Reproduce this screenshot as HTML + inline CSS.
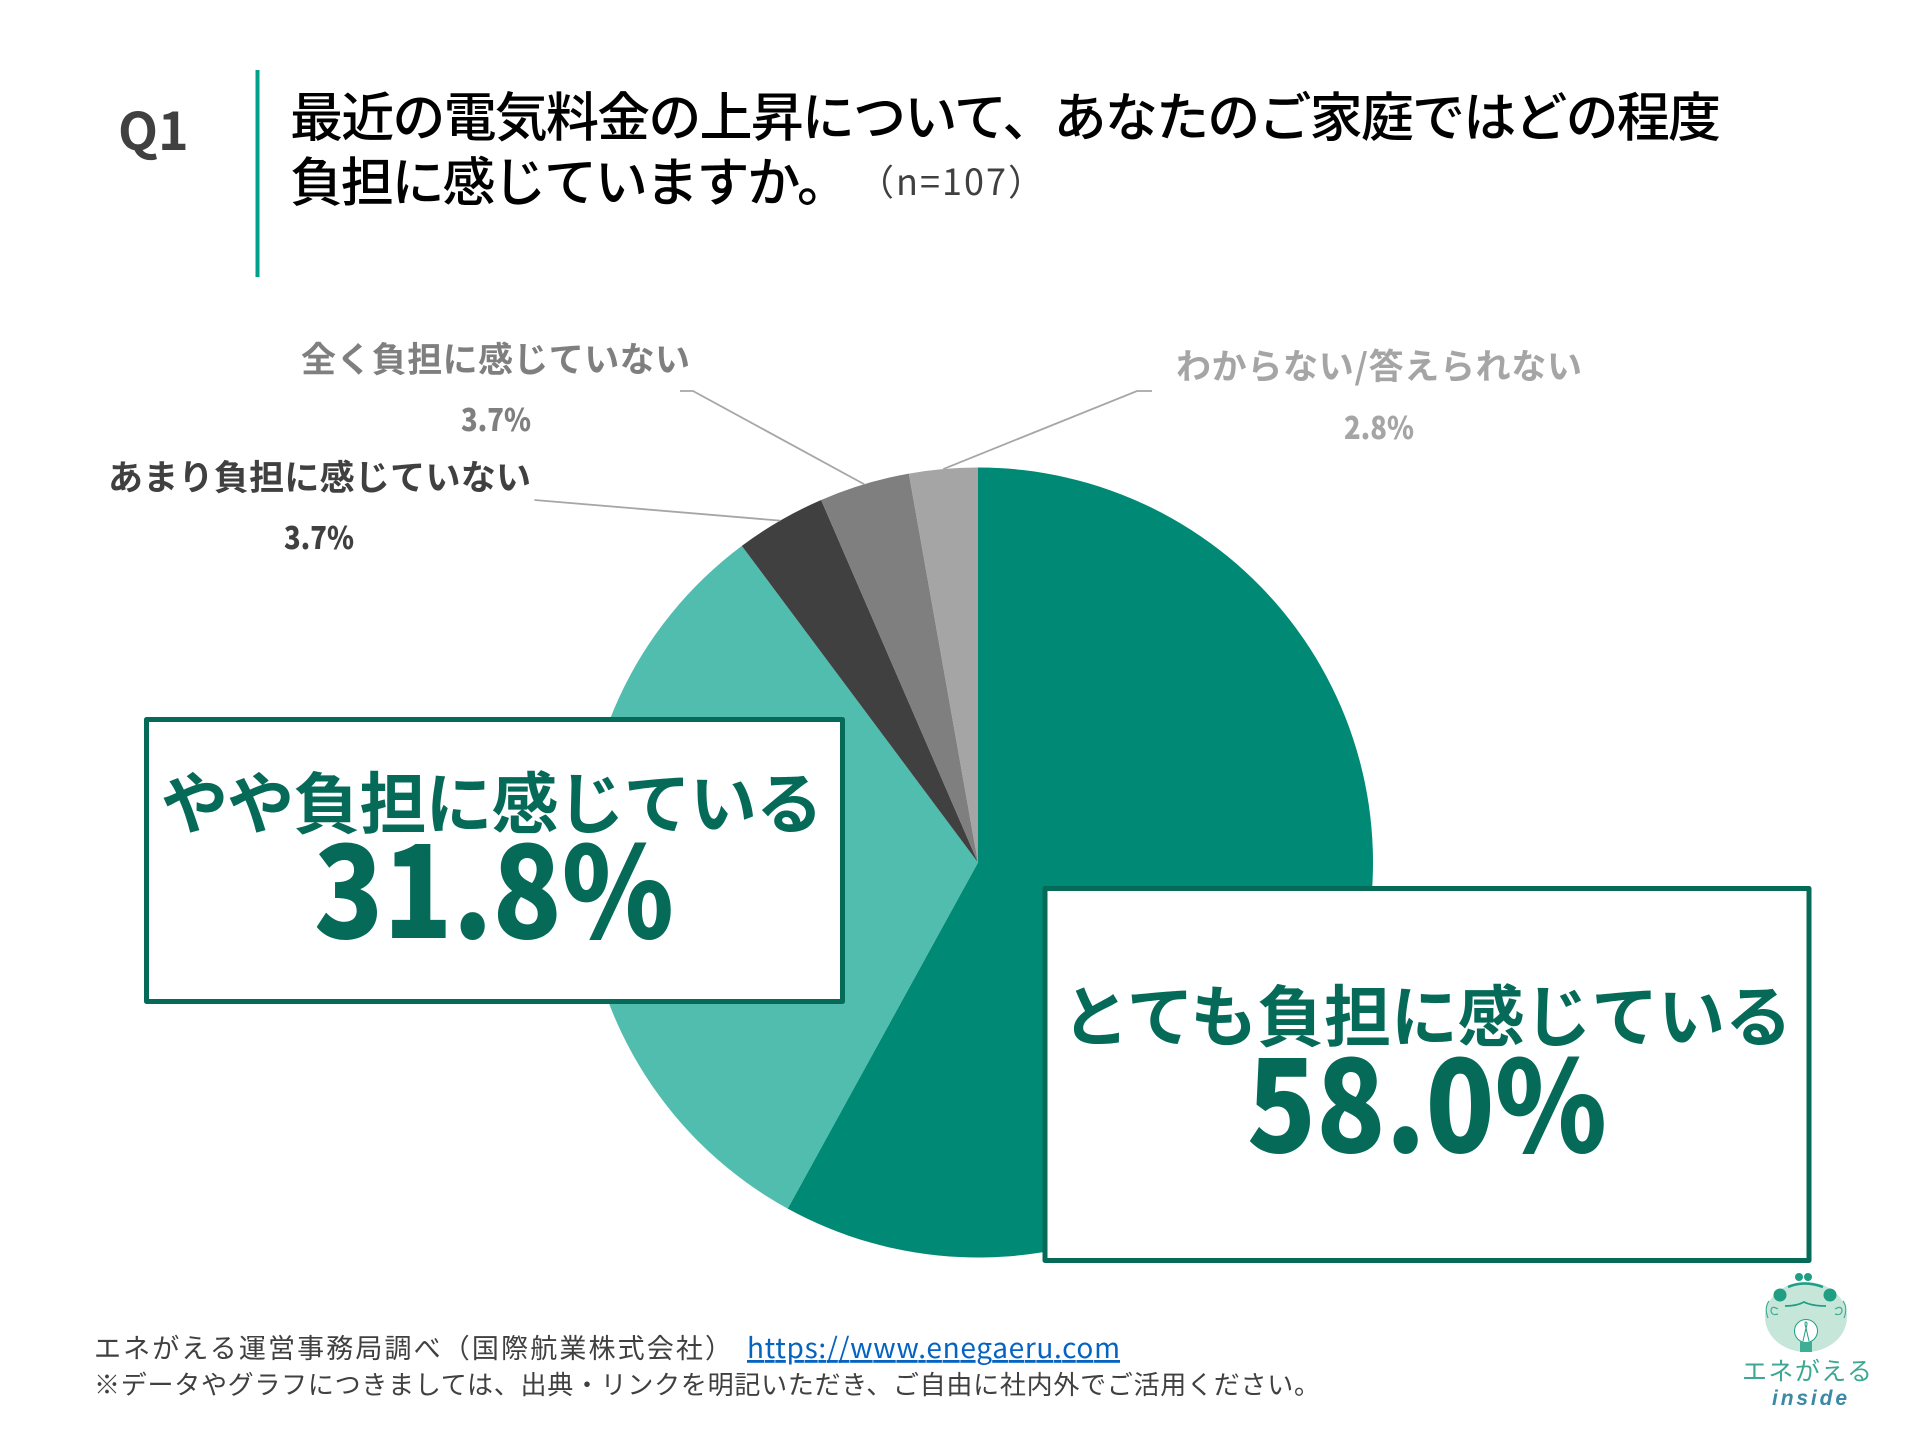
<!DOCTYPE html>
<html lang="ja">
<head>
<meta charset="utf-8">
<title>電気料金の負担感</title>
<style>
html,body{margin:0;padding:0;background:#fff;}
svg{display:block;}
text{font-family:"Liberation Sans","Noto Sans CJK JP",sans-serif;}
.cjk{font-family:"Noto Sans CJK JP",sans-serif;}
</style>
</head>
<body>
<svg id="chart" xmlns="http://www.w3.org/2000/svg" width="1920" height="1440" viewBox="0 0 1920 1440">
  <rect width="1920" height="1440" fill="#ffffff"/>
  <text class="cjk" x="118" y="150" font-size="52" font-weight="700" fill="#404040">Q1</text>
  <rect x="255.500" y="70" width="4" height="207" fill="#00a08a"/>
  <text class="cjk" x="290" y="136" font-size="53" font-weight="500" fill="#000000" textLength="1431">最近の電気料金の上昇について、あなたのご家庭ではどの程度</text>
  <text class="cjk" x="290" y="201" font-size="53" font-weight="500" fill="#000000" textLength="560">負担に感じていますか。</text>
  <text class="cjk" x="858" y="195" font-size="36" fill="#404040" textLength="186">（n=107）</text>
  <g id="pie"></g>
  <g id="labels"></g>
  <g id="callouts"></g>
  <text class="cjk" x="94" y="1358" font-size="27" fill="#404040" textLength="638">エネがえる運営事務局調べ（国際航業株式会社）</text>
  <a><text class="cjk" x="747" y="1358" font-size="28" fill="#0563c1" textLength="373" text-decoration="underline">https://www.enegaeru.com</text></a>
  <text class="cjk" x="94" y="1394" font-size="26" fill="#404040" textLength="1226">※データやグラフにつきましては、出典・リンクを明記いただき、ご自由に社内外でご活用ください。</text>
  <g>
    <ellipse cx="1806" cy="1317" rx="41" ry="35" fill="#c6e6da"/>
    <circle cx="1799" cy="1277" r="4" fill="#1f9e83"/>
    <circle cx="1808" cy="1277" r="4" fill="#1f9e83"/>
    <path d="M1788 1287 Q1804 1280 1823 1287" fill="none" stroke="#1f9e83" stroke-width="2.500"/>
    <circle cx="1780" cy="1295" r="6.500" fill="#1f9e83"/>
    <circle cx="1830" cy="1295" r="6.500" fill="#1f9e83"/>
    <path d="M1785 1306 Q1797 1306 1804 1302 Q1812 1306 1826 1306" fill="none" stroke="#1f9e83" stroke-width="1.800"/>
    <path d="M1768 1318 Q1764 1308 1769 1301 M1778 1309 Q1771 1305 1771 1311 Q1772 1316 1778 1314" fill="none" stroke="#3eae95" stroke-width="1.200"/>
    <path d="M1844 1318 Q1848 1308 1843 1301 M1835 1309 Q1842 1305 1842 1311 Q1841 1316 1835 1314" fill="none" stroke="#3eae95" stroke-width="1.200"/>
    <circle cx="1806" cy="1331" r="11.500" fill="#ffffff" stroke="#1f9e83" stroke-width="1"/>
    <path d="M1803 1341 L1806 1328 Q1804 1322 1806 1322 Q1808 1322 1806 1328 L1809 1341" fill="none" stroke="#1f9e83" stroke-width="1"/>
    <rect x="1800" y="1342" width="12" height="10" fill="#3eae95"/>
    <text class="cjk" x="1742" y="1380" font-size="25" fill="#3ca893" textLength="130">エネがえる</text>
    <text x="1772" y="1405" font-size="21" font-weight="700" font-style="italic" fill="#3a8aa5" textLength="75">inside</text>
  </g>
</svg>
<script>
// Chart data
const categories = ['とても負担に感じている', 'やや負担に感じている', 'あまり負担に感じていない', '全く負担に感じていない', 'わからない/答えられない'];
const seriesValues = [58.0, 31.8, 3.7, 3.7, 2.8];
const sliceColors = ['#008a75', '#50bdae', '#404040', '#7f7f7f', '#a5a5a5'];

const NS = 'http://www.w3.org/2000/svg';
const pieCx = 978, pieCy = 862.5, pieR = 395;
const total = seriesValues.reduce(function (a, b) { return a + b; }, 0);

function angleOf(value) { return value / total * Math.PI * 2; }
function pointAt(angle, r) {
  return [pieCx + r * Math.sin(angle), pieCy - r * Math.cos(angle)];
}
function startAngle(i) {
  let sum = 0;
  for (let k = 0; k < i; k++) sum += seriesValues[k];
  return angleOf(sum);
}
function midAngle(i) { return startAngle(i) + angleOf(seriesValues[i]) / 2; }
function pct(i) { return seriesValues[i].toFixed(1) + '%'; }

const pie = document.getElementById('pie');
seriesValues.forEach(function (v, i) {
  const a0 = startAngle(i), a1 = a0 + angleOf(v);
  const p0 = pointAt(a0, pieR), p1 = pointAt(a1, pieR);
  const large = a1 - a0 > Math.PI ? 1 : 0;
  const path = document.createElementNS(NS, 'path');
  path.setAttribute('d', 'M' + pieCx + ' ' + pieCy + ' L' + p0[0] + ' ' + p0[1] + ' A' + pieR + ' ' + pieR + ' 0 ' + large + ' 1 ' + p1[0] + ' ' + p1[1] + ' Z');
  path.setAttribute('fill', sliceColors[i]);
  
  
  pie.appendChild(path);
});

function addText(parent, str, x, y, size, fill, anchor, length, squeeze, weight) {
  const t = document.createElementNS(NS, 'text');
  t.setAttribute('class', 'cjk');
  t.setAttribute('x', x);
  t.setAttribute('y', y);
  t.setAttribute('font-size', size);
  t.setAttribute('font-weight', weight || '700');
  t.setAttribute('fill', fill);
  t.setAttribute('text-anchor', anchor);
  if (length) t.setAttribute('textLength', length);
  if (squeeze) t.setAttribute('lengthAdjust', 'spacingAndGlyphs');
  t.textContent = str;
  parent.appendChild(t);
  return t;
}

const labelsLayer = document.getElementById('labels');
function drawLabel(i, nameX, nameY, nameLen, pctX, pctY, color, elbow0X, elbow0Y, elbow1X, elbow1Y) {
  const end = pointAt(midAngle(i), pieR);
  const line = document.createElementNS(NS, 'polyline');
  line.setAttribute('points', elbow0X + ',' + elbow0Y + ' ' + elbow1X + ',' + elbow1Y + ' ' + end[0] + ',' + end[1]);
  line.setAttribute('fill', 'none');
  line.setAttribute('stroke', '#a6a6a6');
  line.setAttribute('stroke-width', '1.800');
  
  
  labelsLayer.appendChild(line);
  const nameEl = addText(labelsLayer, categories[i], nameX, nameY, 35, color, 'start', nameLen);
  
  
  const valueEl = addText(labelsLayer, pct(i), pctX, pctY, 31, color, 'middle', 70, true, '900');
  
  
}
drawLabel(2, 108, 490, 423, 319, 549, '#404040', 534.5, 500, 534.5, 500);
drawLabel(3, 301, 372, 389, 496, 431, '#7f7f7f', 680, 391, 693, 391);
drawLabel(4, 1176, 379, 406, 1379, 439, '#a5a5a5', 1152, 391, 1137, 391);

const calloutsLayer = document.getElementById('callouts');
function drawCallout(i, x, y, w, h, nameX, nameY, nameLen, pctX, pctY) {
  const box = document.createElementNS(NS, 'rect');
  box.setAttribute('x', x);
  box.setAttribute('y', y);
  box.setAttribute('width', w);
  box.setAttribute('height', h);
  box.setAttribute('fill', '#ffffff');
  box.setAttribute('stroke', '#056b58');
  box.setAttribute('stroke-width', '5');
  box.setAttribute('stroke-linejoin', 'round');
  
  
  calloutsLayer.appendChild(box);
  const nameEl = addText(calloutsLayer, categories[i], nameX, nameY, 67, '#056b58', 'start', nameLen);
  
  
  const valueEl = addText(calloutsLayer, pct(i), pctX, pctY, 126, '#056b58', 'middle', 360, true, '900');
  
  
}
drawCallout(1, 146.5, 719.5, 696, 282, 161, 828, 662, 494, 938);
drawCallout(0, 1045, 888.5, 764, 372, 1062, 1041, 730, 1427, 1152);
</script>
</body>
</html>
